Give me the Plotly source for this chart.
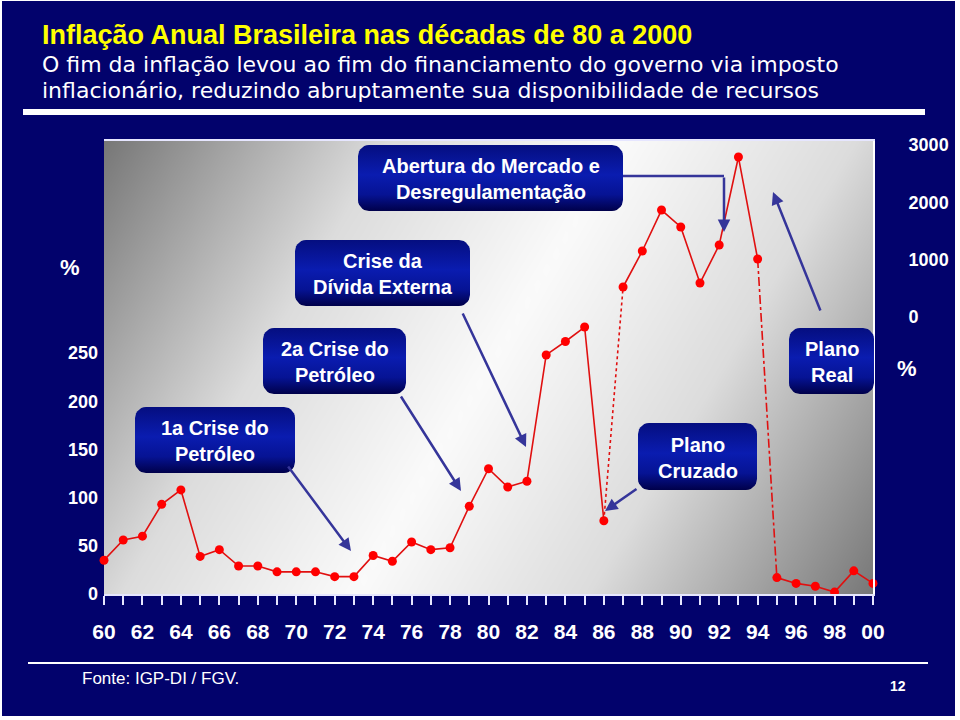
import numpy as np
import plotly.graph_objects as go

# ---------------- data ----------------
years_left_a = list(range(1960, 1987))
infl_left_a = [35, 56, 60, 93, 108, 39, 46, 29, 29, 23, 23, 23, 18, 18, 40, 34, 54, 46, 48, 91,
               130, 111, 117, 248, 262, 277, 76]
years_right = list(range(1987, 1995))
infl_right = [524, 1152, 1867, 1571, 593, 1257, 2792, 1012]
years_left_b = list(range(1995, 2001))
infl_left_b = [17, 11, 8, 2, 24, 11]

left_ticks = [0, 50, 100, 150, 200, 250]
right_ticks = [0, 1000, 2000, 3000]
x_tick_years = list(range(1960, 2001))
x_tick_text = [f"{y % 100:02d}" if y % 2 == 0 else "" for y in x_tick_years]

title = "Inflação Anual Brasileira nas décadas de 80 a 2000"
subtitle1 = "O fim da inflação levou ao fim do financiamento do governo via imposto"
subtitle2 = "inflacionário, reduzindo abruptamente sua disponibilidade de recursos"
box_texts = ["Abertura do Mercado e<br>Desregulamentação", "Crise da<br>Dívida Externa",
             "2a Crise do<br>Petróleo", "1a Crise do<br>Petróleo", "Plano<br>Cruzado", "Plano<br>Real"]
source = "Fonte: IGP-DI / FGV."
page = "12"

# ---------------- styling ----------------
W, H = 960, 720
NAVY = "#02026c"
RED = "#ff0000"
LINE_RED = "#e01010"
ARROW = "#35359a"
FONT = "Liberation Sans"
WIDE = "DejaVu Sans"

# plot area in pixels
PX0, PX1, PY0, PY1 = 104, 873, 141, 594
Y1_RANGE = [0, 470]
Y2_RANGE = [-4834, 3072]


def to_y2(v):
    return Y2_RANGE[0] + (v - Y1_RANGE[0]) / (Y1_RANGE[1] - Y1_RANGE[0]) * (Y2_RANGE[1] - Y2_RANGE[0])


fig = go.Figure()

# gradient background of the plot area (diagonal gray -> white -> gray)
gx = np.linspace(1960, 2000, 81)
gy = np.linspace(Y1_RANGE[0], Y1_RANGE[1], 61)
GX, GY = np.meshgrid(gx, gy)
pw, ph = PX1 - PX0, PY1 - PY0
px = (GX - 1960) / 40 * pw
py = (1 - (GY - Y1_RANGE[0]) / (Y1_RANGE[1] - Y1_RANGE[0])) * ph
t = (px * pw + py * ph) / (pw ** 2 + ph ** 2)
z = 1 - np.abs(2 * t - 1)
fig.add_trace(go.Heatmap(x=gx, y=gy, z=z, zmin=0, zmax=1, zsmooth="best", showscale=False,
                         colorscale=[[0, "#777777"], [0.55, "#dcdcdc"], [1, "#fafafa"]],
                         hoverinfo="skip", xaxis="x", yaxis="y"))

# connectors between the two scales
fig.add_trace(go.Scatter(x=[years_left_a[-1], years_right[0]], y=[to_y2(infl_left_a[-1]), infl_right[0]],
                         mode="lines", line=dict(color=LINE_RED, width=1.6, dash="dot"),
                         xaxis="x", yaxis="y2", hoverinfo="skip", cliponaxis=False))
fig.add_trace(go.Scatter(x=[years_right[-1], years_left_b[0]], y=[infl_right[-1], to_y2(infl_left_b[0])],
                         mode="lines", line=dict(color=LINE_RED, width=1.6, dash="dashdot"),
                         xaxis="x", yaxis="y2", hoverinfo="skip", cliponaxis=False))

mk = dict(color=RED, size=9)
fig.add_trace(go.Scatter(x=years_left_a, y=infl_left_a, mode="lines+markers",
                         line=dict(color=LINE_RED, width=1.6), marker=mk, cliponaxis=False,
                         xaxis="x", yaxis="y"))
fig.add_trace(go.Scatter(x=years_left_b, y=infl_left_b, mode="lines+markers",
                         line=dict(color=LINE_RED, width=1.6), marker=mk, cliponaxis=False,
                         xaxis="x", yaxis="y"))
fig.add_trace(go.Scatter(x=years_right, y=infl_right, mode="lines+markers",
                         line=dict(color=LINE_RED, width=1.6), marker=mk, cliponaxis=False,
                         xaxis="x", yaxis="y2"))


# rounded label boxes (pixel coordinates on an overlay axis pair)
def rrect(x0, y0, x1, y1, r=11, n=8):
    xs, ys = [], []
    corners = [(x1 - r, y0 + r, -90, 0), (x1 - r, y1 - r, 0, 90),
               (x0 + r, y1 - r, 90, 180), (x0 + r, y0 + r, 180, 270)]
    for cx, cy, a0, a1 in corners:
        for a in np.linspace(np.radians(a0), np.radians(a1), n):
            xs.append(cx + r * np.cos(a))
            ys.append(cy + r * np.sin(a))
    xs.append(xs[0]); ys.append(ys[0])
    return xs, ys


boxes = [(358, 145, 623, 211), (295, 240, 470, 306), (263, 328, 406, 394),
         (135, 407, 295, 473), (638, 423, 757, 490), (789, 328, 874, 394)]

annotations = []
shapes = []

# page background with the thin white frame
shapes.append(dict(type="rect", xref="paper", yref="paper", x0=2 / W, x1=955 / W, y0=1 - 716 / H, y1=1 - 1 / H,
                   fillcolor=NAVY, line=dict(width=0), layer="below"))
shapes.append(dict(type="line", xref="paper", yref="paper", x0=23 / W, x1=925 / W, y0=1 - 112 / H, y1=1 - 112 / H,
                   line=dict(color="white", width=6), layer="below"))
shapes.append(dict(type="line", xref="paper", yref="paper", x0=28 / W, x1=928 / W, y0=1 - 663 / H, y1=1 - 663 / H,
                   line=dict(color="white", width=2), layer="below"))

# arrows
arrows = [((287, 465), (351, 551)), ((400, 395), (461, 491)), ((462, 312), (526, 447)),
          ((724, 176), (724, 232)), ((821, 312), (773, 192)), ((638, 488), (605, 511))]
fig.add_trace(go.Scatter(x=[623, 724], y=[176, 176], mode="lines", line=dict(color=ARROW, width=2.5),
                         xaxis="x3", yaxis="y3", hoverinfo="skip"))
for (tx, ty), (hx, hy) in arrows:
    annotations.append(dict(x=hx, y=hy, ax=tx, ay=ty, xref="x3", yref="y3", axref="x3", ayref="y3",
                            text="", showarrow=True, arrowhead=2, arrowsize=1.0, arrowwidth=2.5,
                            arrowcolor=ARROW, standoff=0))

for (x0, y0, x1, y1), txt in zip(boxes, box_texts):
    xs, ys = rrect(x0, y0, x1, y1)
    fig.add_trace(go.Scatter(x=xs, y=ys, mode="lines", fill="toself", line=dict(width=0, color=NAVY),
                             fillgradient=dict(type="vertical", start=y0, stop=y1,
                                               colorscale=[[0, "#050e80"], [0.45, "#0a1cb0"],
                                                           [0.75, "#061394"], [1, "#00004a"]]),
                             xaxis="x3", yaxis="y3", hoverinfo="skip"))
    annotations.append(dict(x=(x0 + x1) / 2, y=(y0 + y1) / 2 + 1, xref="x3", yref="y3", text=txt,
                            showarrow=False, font=dict(family=FONT, size=20, color="white", weight="bold"),
                            align="center", xanchor="center", yanchor="middle"))


def label(x, y, text, size, color="white", bold=False, xanchor="center", family=FONT):
    f = dict(family=family, size=size, color=color)
    if bold:
        f["weight"] = "bold"
    return dict(x=x / W, y=1 - y / H, xref="paper", yref="paper", text=text, showarrow=False,
                xanchor=xanchor, yanchor="middle", font=f)


annotations += [
    label(40, 35, title, 27, "#ffff00", True, "left"),
    label(40, 64, subtitle1, 22, xanchor="left", family=WIDE),
    label(40, 90, subtitle2, 22, xanchor="left", family=WIDE),
    label(70, 267, "%", 22, bold=True),
    label(907, 368, "%", 22, bold=True),
    label(80, 678, source, 17, xanchor="left"),
    label(898, 686, page, 14, bold=True),
]

fig.update_layout(
    width=W, height=H, margin=dict(l=0, r=0, t=0, b=0, autoexpand=False),
    paper_bgcolor="white", plot_bgcolor="rgba(0,0,0,0)", showlegend=False,
    shapes=shapes, annotations=annotations,
    xaxis=dict(domain=[PX0 / W, PX1 / W], range=[1960, 2000], tickmode="array", tickvals=x_tick_years,
               ticktext=x_tick_text, ticks="outside", ticklen=9, tickwidth=2, tickcolor="#e6e6ff",
               showline=True, linecolor="#e6e6ff", linewidth=2, mirror=True, showgrid=False, zeroline=False,
               tickfont=dict(family=FONT, size=21, color="white", weight="bold"), ticklabelstandoff=9,
               fixedrange=True, anchor="y", automargin=False),
    yaxis=dict(domain=[1 - PY1 / H, 1 - PY0 / H], range=Y1_RANGE, tickmode="array", tickvals=left_ticks,
               showgrid=False, zeroline=False, showline=False, ticks="",
               tickfont=dict(family=FONT, size=18, color="white", weight="bold"), ticklabelstandoff=5,
               fixedrange=True, anchor="x", automargin=False),
    yaxis2=dict(overlaying="y", side="right", range=Y2_RANGE, tickmode="array", tickvals=right_ticks,
                showgrid=False, zeroline=False, showline=True, linecolor="white", linewidth=2, ticks="",
                tickfont=dict(family=FONT, size=18, color="white", weight="bold"), ticklabelstandoff=30,
                fixedrange=True, anchor="x", automargin=False),
    xaxis3=dict(domain=[0, 1], range=[0, W], visible=False, fixedrange=True, anchor="y3", automargin=False),
    yaxis3=dict(domain=[0, 1], range=[H, 0], visible=False, fixedrange=True, anchor="x3", automargin=False),
)

fig.write_html("out.html")
